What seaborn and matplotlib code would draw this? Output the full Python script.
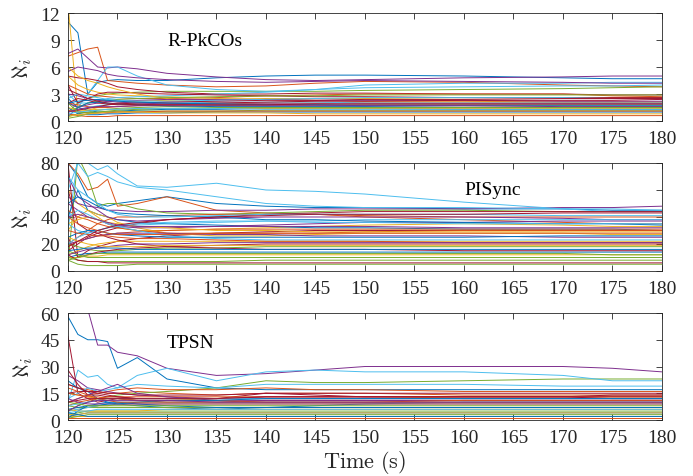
import numpy as np
import pandas as pd
import matplotlib
matplotlib.use("Agg")
import matplotlib.pyplot as plt
import seaborn as sns

# time grid (s)
time_s = [120, 121, 122, 123, 124, 125, 127, 130, 135, 140, 145, 150, 160, 170, 175, 180]

rpkcos = [
    [11, 9.8, 3.0, 4.3, 4.5, 4.6, 4.5, 4.5, 4.8, 5.0, 5.1, 5.1, 5.0, 4.8, 4.7, 4.7],
    [7.2, 7.6, 8.0, 8.2, 4.5, 4.4, 4.2, 4.0, 3.8, 3.9, 4.2, 4.4, 4.3, 4.0, 3.9, 3.8],
    [13, 1.0, 1.2, 1.5, 1.8, 2.0, 2.2, 2.3, 2.4, 2.5, 2.5, 2.5, 2.6, 2.6, 2.6, 2.6],
    [7.5, 8.0, 7.0, 6.0, 5.9, 6.0, 5.8, 5.3, 4.9, 4.6, 4.5, 4.6, 4.8, 4.9, 5.0, 5.0],
    [1.0, 2.0, 2.5, 2.8, 3.0, 3.1, 3.2, 3.3, 3.3, 3.3, 3.3, 3.4, 3.5, 3.6, 3.7, 3.8],
    [2.0, 1.5, 3.0, 4.5, 6.0, 6.0, 5.0, 4.0, 3.5, 3.3, 3.5, 4.0, 4.2, 4.2, 4.3, 4.3],
    [5.0, 4.8, 4.7, 4.5, 4.2, 3.8, 3.5, 3.2, 3.0, 3.0, 3.1, 3.1, 3.0, 3.0, 2.9, 2.9],
    [2.5, 1.5, 1.2, 1.0, 1.0, 1.1, 1.2, 1.3, 1.3, 1.4, 1.4, 1.4, 1.3, 1.3, 1.3, 1.3],
    [4.0, 3.5, 3.0, 2.8, 2.7, 2.6, 2.5, 2.5, 2.6, 2.8, 2.9, 3.0, 3.0, 3.0, 2.8, 2.7],
    [5.0, 4.0, 3.5, 3.2, 3.0, 2.9, 2.8, 2.7, 2.5, 2.4, 2.3, 2.2, 2.2, 2.1, 2.1, 2.1],
    [5.5, 6.0, 5.8, 5.6, 5.2, 5.0, 4.8, 4.6, 4.4, 4.3, 4.4, 4.5, 4.4, 4.3, 4.2, 4.2],
    [0.5, 0.8, 1.0, 1.2, 1.3, 1.4, 1.5, 1.6, 1.7, 1.8, 1.8, 1.8, 1.8, 1.8, 1.8, 1.8],
    [3.0, 2.0, 2.0, 2.2, 2.5, 2.6, 2.7, 2.8, 3.0, 3.2, 3.5, 3.7, 3.8, 3.9, 3.9, 4.0],
    [4.0, 2.0, 2.5, 3.0, 3.2, 3.2, 3.1, 3.0, 2.9, 2.8, 2.7, 2.7, 2.6, 2.6, 2.6, 2.6],
    [1.5, 0.8, 0.7, 0.7, 0.8, 0.8, 0.9, 0.9, 1.0, 1.0, 1.0, 1.0, 1.0, 1.0, 1.0, 1.0],
    [2.0, 1.8, 1.6, 1.5, 1.5, 1.6, 1.7, 1.8, 1.9, 2.0, 2.0, 2.1, 2.1, 2.1, 2.1, 2.1],
    [6.0, 5.0, 4.5, 4.2, 3.8, 3.5, 3.0, 2.5, 2.0, 1.8, 1.7, 1.7, 1.7, 1.7, 1.6, 1.6],
    [2.0, 1.5, 1.8, 2.0, 2.2, 2.3, 2.3, 2.4, 2.4, 2.4, 2.3, 2.3, 2.3, 2.2, 2.2, 2.2],
    [1.0, 1.5, 2.0, 2.2, 2.3, 2.4, 2.5, 2.6, 2.7, 2.8, 2.8, 2.9, 2.9, 2.9, 2.9, 2.9],
    [1.0, 1.2, 1.5, 1.7, 1.8, 1.9, 2.0, 2.0, 2.1, 2.1, 2.1, 2.0, 2.0, 2.0, 2.0, 2.0],
    [2.0, 2.5, 2.3, 2.0, 1.9, 1.8, 1.8, 1.9, 2.0, 2.1, 2.2, 2.2, 2.3, 2.3, 2.3, 2.4],
    [0.5, 1.5, 2.0, 2.1, 2.0, 1.9, 1.8, 1.7, 1.6, 1.6, 1.6, 1.6, 1.5, 1.5, 1.5, 1.5],
    [0.8, 0.6, 0.5, 0.5, 0.5, 0.6, 0.6, 0.6, 0.6, 0.6, 0.6, 0.6, 0.6, 0.6, 0.6, 0.6],
    [1.5, 1.2, 1.2, 1.3, 1.3, 1.3, 1.4, 1.4, 1.4, 1.4, 1.4, 1.4, 1.4, 1.4, 1.4, 1.4],
    [3.0, 2.8, 2.5, 2.3, 2.2, 2.1, 2.0, 1.9, 1.9, 1.9, 1.9, 1.9, 1.9, 1.9, 1.9, 1.9],
    [0.3, 0.5, 0.8, 0.9, 1.0, 1.0, 1.1, 1.1, 1.1, 1.2, 1.2, 1.2, 1.2, 1.2, 1.2, 1.2],
    [2.5, 3.0, 2.8, 2.6, 2.4, 2.3, 2.2, 2.2, 2.3, 2.4, 2.5, 2.6, 2.6, 2.6, 2.5, 2.5],
    [1.0, 1.2, 1.4, 1.6, 1.8, 1.9, 2.0, 2.1, 2.2, 2.3, 2.3, 2.4, 2.4, 2.5, 2.5, 2.5],
    [2.0, 2.2, 2.3, 2.4, 2.3, 2.2, 2.1, 2.0, 1.9, 1.8, 1.8, 1.7, 1.7, 1.7, 1.7, 1.7],
    [1.2, 1.0, 0.9, 0.9, 0.9, 1.0, 1.0, 1.1, 1.1, 1.1, 1.1, 1.1, 1.1, 1.1, 1.1, 1.1],
    [0.5, 0.7, 0.8, 0.9, 1.0, 1.0, 1.0, 0.9, 0.9, 0.9, 0.8, 0.8, 0.8, 0.8, 0.8, 0.8],
    [1.0, 1.3, 1.5, 1.6, 1.6, 1.6, 1.7, 1.7, 1.7, 1.7, 1.7, 1.7, 1.7, 1.6, 1.6, 1.6],
    [2.0, 1.0, 0.9, 1.0, 1.1, 1.2, 1.3, 1.4, 1.5, 1.5, 1.5, 1.5, 1.5, 1.5, 1.5, 1.5],
    [0.8, 1.0, 1.1, 1.2, 1.3, 1.3, 1.4, 1.4, 1.4, 1.3, 1.3, 1.3, 1.3, 1.3, 1.3, 1.3],
    [3.5, 3.0, 2.5, 2.2, 2.0, 1.9, 1.8, 1.8, 1.8, 1.8, 1.9, 1.9, 1.9, 1.9, 1.9, 1.9],
]

pisync = [
    [80, 70, 55, 50, 48, 50, 52, 55, 50, 48, 47, 47, 46, 46, 45, 45],
    [80, 72, 60, 62, 68, 48, 50, 55, 45, 43, 42, 40, 38, 36, 35, 35],
    [60, 50, 45, 40, 35, 32, 30, 30, 31, 32, 33, 34, 35, 34, 33, 33],
    [55, 50, 48, 47, 45, 45, 44, 44, 45, 45, 46, 46, 46, 47, 47, 48],
    [5, 85, 70, 48, 50, 50, 46, 43, 42, 43, 44, 45, 45, 44, 44, 44],
    [30, 85, 80, 75, 78, 72, 63, 62, 65, 60, 59, 57, 51, 46, 44, 44],
    [80, 10, 15, 18, 20, 22, 24, 26, 28, 29, 30, 30, 30, 30, 30, 30],
    [40, 60, 45, 42, 40, 38, 36, 35, 34, 33, 32, 32, 31, 31, 31, 30],
    [20, 25, 30, 35, 38, 40, 40, 41, 42, 42, 42, 41, 40, 40, 40, 40],
    [30, 40, 45, 42, 40, 36, 32, 28, 26, 26, 27, 28, 28, 28, 27, 27],
    [70, 55, 50, 45, 40, 38, 37, 38, 39, 40, 40, 40, 40, 39, 38, 38],
    [8, 5, 4, 4, 4, 4, 5, 5, 5, 5, 5, 5, 5, 5, 5, 5],
    [60, 80, 70, 73, 70, 66, 62, 60, 55, 50, 48, 47, 47, 46, 46, 45],
    [15, 20, 25, 28, 30, 32, 35, 38, 40, 42, 43, 44, 44, 44, 44, 44],
    [10, 12, 13, 13, 14, 14, 14, 14, 14, 14, 14, 14, 14, 14, 14, 14],
    [45, 40, 38, 35, 33, 32, 30, 28, 28, 28, 28, 29, 30, 30, 30, 30],
    [12, 15, 18, 20, 21, 22, 22, 22, 22, 22, 22, 22, 22, 22, 22, 22],
    [50, 45, 40, 38, 35, 33, 32, 32, 33, 34, 35, 36, 36, 37, 37, 37],
    [20, 18, 16, 15, 15, 15, 16, 17, 17, 18, 18, 18, 18, 18, 18, 18],
    [35, 30, 28, 30, 32, 33, 34, 35, 36, 37, 37, 38, 38, 38, 38, 38],
    [25, 10, 12, 14, 15, 16, 17, 18, 19, 20, 20, 20, 20, 20, 20, 20],
    [50, 55, 52, 48, 45, 43, 42, 41, 40, 38, 38, 37, 36, 35, 35, 34],
    [18, 22, 24, 26, 27, 28, 29, 30, 31, 31, 31, 31, 31, 31, 31, 31],
    [10, 10, 11, 11, 12, 12, 12, 12, 12, 12, 12, 12, 12, 12, 12, 12],
    [20, 22, 24, 26, 27, 28, 28, 28, 27, 27, 26, 26, 26, 25, 25, 25],
    [15, 12, 10, 10, 10, 10, 10, 10, 10, 10, 10, 10, 10, 10, 10, 10],
    [40, 45, 42, 38, 35, 33, 30, 26, 24, 23, 23, 23, 23, 23, 23, 23],
    [60, 35, 30, 28, 25, 23, 20, 18, 17, 16, 16, 16, 15, 15, 15, 15],
    [25, 28, 30, 30, 28, 27, 26, 25, 25, 25, 25, 25, 25, 26, 26, 26],
    [30, 28, 27, 26, 26, 25, 24, 24, 23, 22, 22, 22, 21, 21, 21, 21],
    [35, 38, 40, 38, 36, 35, 33, 32, 30, 30, 29, 29, 29, 29, 29, 29],
    [12, 14, 16, 17, 18, 19, 20, 20, 21, 21, 21, 21, 21, 21, 21, 21],
    [10, 8, 7, 7, 7, 7, 7, 7, 7, 8, 8, 8, 8, 8, 8, 8],
    [20, 25, 28, 30, 32, 34, 35, 36, 37, 37, 36, 36, 35, 35, 35, 35],
    [12, 8, 7, 7, 6, 6, 6, 6, 6, 6, 6, 6, 6, 6, 6, 6],
    [15, 16, 17, 17, 17, 17, 16, 16, 16, 16, 16, 16, 16, 16, 16, 16],
    [40, 35, 32, 30, 28, 27, 27, 27, 28, 28, 28, 28, 28, 28, 28, 28],
    [25, 22, 20, 19, 18, 18, 18, 19, 19, 19, 19, 19, 19, 19, 19, 19],
    [40, 42, 40, 38, 36, 34, 33, 33, 33, 33, 33, 33, 32, 32, 32, 32],
    [8, 10, 12, 13, 13, 13, 13, 13, 13, 13, 13, 13, 13, 13, 12, 12],
    [70, 60, 55, 50, 45, 42, 40, 40, 41, 42, 42, 42, 42, 41, 41, 41],
    [18, 22, 26, 30, 32, 34, 36, 38, 40, 41, 42, 42, 42, 43, 43, 43],
]

tpsn = [
    [58, 48, 45, 45, 44, 29, 35, 23, 18, 17, 17, 17, 17, 17, 17, 17],
    [20, 18, 17, 16, 15, 15, 16, 15, 14, 15, 15, 15, 14, 14, 14, 14],
    [15, 14, 13, 12, 12, 12, 11, 11, 12, 12, 12, 12, 13, 13, 13, 13],
    [90, 80, 62, 42, 42, 38, 36, 29, 25, 26, 28, 30, 30, 30, 29, 27],
    [5, 8, 10, 12, 13, 14, 15, 16, 18, 22, 21, 21, 22, 23, 23, 23],
    [10, 28, 24, 25, 20, 18, 25, 29, 22, 27, 28, 27, 27, 25, 22, 22],
    [47, 15, 12, 10, 11, 12, 11, 10, 10, 11, 11, 11, 11, 11, 11, 11],
    [22, 18, 16, 12, 10, 9, 8, 7, 6, 7, 8, 9, 10, 10, 10, 10],
    [10, 12, 14, 15, 16, 17, 18, 17, 17, 18, 17, 17, 16, 16, 16, 16],
    [5, 6, 7, 8, 8, 9, 9, 9, 9, 9, 9, 9, 9, 9, 9, 9],
    [25, 22, 18, 17, 16, 15, 14, 13, 12, 12, 12, 12, 12, 12, 12, 12],
    [3, 4, 5, 5, 5, 5, 5, 5, 5, 5, 5, 5, 5, 5, 5, 5],
    [12, 15, 18, 16, 17, 18, 20, 19, 18, 20, 20, 20, 20, 19, 19, 19],
    [28, 20, 14, 14, 13, 13, 12, 12, 12, 15, 14, 13, 13, 13, 14, 14],
    [2, 3, 4, 4, 4, 4, 4, 4, 4, 4, 4, 4, 4, 4, 4, 4],
    [8, 10, 11, 12, 13, 13, 13, 13, 13, 13, 13, 13, 13, 13, 13, 13],
    [2, 2, 2, 2, 2, 2, 2, 2, 2, 2, 2, 2, 2, 2, 2, 2],
    [10, 12, 14, 16, 18, 20, 15, 13, 11, 11, 11, 11, 11, 11, 11, 11],
    [8, 7, 7, 7, 7, 7, 7, 7, 7, 7, 7, 7, 7, 7, 7, 7],
    [5, 6, 7, 8, 9, 10, 10, 10, 10, 10, 10, 10, 10, 10, 10, 10],
    [20, 18, 16, 15, 14, 13, 12, 12, 12, 13, 13, 13, 13, 13, 12, 12],
    [1, 5, 8, 9, 10, 10, 9, 8, 7, 7, 7, 7, 7, 7, 7, 7],
    [15, 14, 13, 13, 12, 12, 11, 11, 11, 10, 10, 10, 10, 10, 10, 10],
    [6, 5, 5, 5, 5, 5, 5, 6, 6, 6, 6, 6, 6, 6, 6, 6],
    [12, 10, 9, 9, 9, 9, 9, 9, 9, 9, 9, 9, 9, 9, 9, 9],
    [1, 2, 3, 3, 3, 3, 3, 3, 3, 3, 3, 3, 3, 3, 3, 3],
    [8, 9, 10, 11, 12, 12, 12, 12, 12, 12, 12, 12, 12, 12, 12, 12],
    [15, 16, 16, 16, 15, 15, 14, 14, 14, 15, 15, 15, 15, 15, 15, 15],
    [6, 7, 8, 8, 9, 9, 10, 11, 11, 12, 12, 12, 12, 12, 12, 12],
    [18, 16, 14, 12, 11, 10, 10, 10, 10, 10, 10, 10, 11, 11, 11, 11],
    [3, 3, 4, 4, 4, 4, 4, 4, 4, 4, 4, 4, 4, 4, 4, 4],
    [5, 8, 10, 11, 11, 11, 11, 11, 10, 10, 10, 10, 10, 10, 10, 10],
    [10, 9, 8, 8, 8, 8, 8, 8, 8, 8, 8, 8, 8, 8, 8, 8],
    [4, 5, 5, 6, 6, 6, 6, 6, 6, 6, 6, 6, 6, 6, 6, 6],
    [10, 11, 12, 12, 12, 12, 12, 12, 12, 13, 13, 13, 13, 13, 13, 13],
    [4, 3, 2, 2, 2, 2, 2, 2, 2, 2, 2, 2, 2, 2, 2, 2],
    [1, 1, 1, 1, 1, 1, 1, 1, 1, 1, 1, 1, 1, 1, 1, 1],
]

panel_names = ["R-PkCOs", "PISync", "TPSN"]
y_limits = [(0, 12), (0, 80), (0, 60)]
y_ticks = [[0, 3, 6, 9, 12], [0, 20, 40, 60, 80], [0, 15, 30, 45, 60]]
x_ticks = list(range(120, 181, 5))
label_pos = [(130.0, 8.9), (160.0, 60.0), (130.0, 43.5)]

matlab_colors = ["#0072BD", "#D95319", "#EDB120", "#7E2F8E",
                 "#77AC30", "#4DBEEE", "#A2142F"]

sns.set_style("ticks")
plt.rcParams["font.family"] = ["Liberation Serif", "DejaVu Serif"]
plt.rcParams["mathtext.fontset"] = "cm"
plt.rcParams["xtick.direction"] = "in"
plt.rcParams["ytick.direction"] = "in"

fig = plt.figure(figsize=(6.93, 4.77), dpi=100)
boxes = [(0.0981, 0.7442, 0.857, 0.2264),
         (0.0981, 0.4298, 0.857, 0.2264),
         (0.0981, 0.1174, 0.857, 0.2243)]

datasets = [rpkcos, pisync, tpsn]
tick_color = "#262626"
for k, (data, box) in enumerate(zip(datasets, boxes)):
    ax = fig.add_axes(box)
    rows = []
    for i, series in enumerate(data):
        for t, v in zip(time_s, series):
            rows.append((t, v, i))
    df = pd.DataFrame(rows, columns=["t", "v", "line"])
    pal = [matlab_colors[i % 7] for i in range(len(data))]
    sns.lineplot(data=df, x="t", y="v", hue="line", palette=pal,
                 estimator=None, legend=False, linewidth=0.7, ax=ax)
    ax.set_xlim(120, 180)
    ax.set_ylim(*y_limits[k])
    ax.set_xticks(x_ticks)
    ax.set_yticks(y_ticks[k])
    ax.tick_params(axis="both", which="both", direction="in", top=True,
                   right=True, length=4, width=0.6, labelsize=14,
                   colors=tick_color)
    ax.tick_params(axis="x", pad=6.5)
    ax.tick_params(axis="y", pad=6)
    for sp in ax.spines.values():
        sp.set_visible(True)
        sp.set_linewidth(0.6)
        sp.set_color(tick_color)
    ax.set_ylabel(r"$\aleph_i$", fontsize=16, color=tick_color, labelpad=4)
    if k == 2:
        ax.set_xlabel(r"$\mathrm{Time\ (s)}$", fontsize=16, color=tick_color,
                      labelpad=1.5)
    else:
        ax.set_xlabel("")
    ax.text(label_pos[k][0], label_pos[k][1], panel_names[k], fontsize=14,
            color="black", va="center", ha="left")

fig.savefig("out.png", dpi=100)
